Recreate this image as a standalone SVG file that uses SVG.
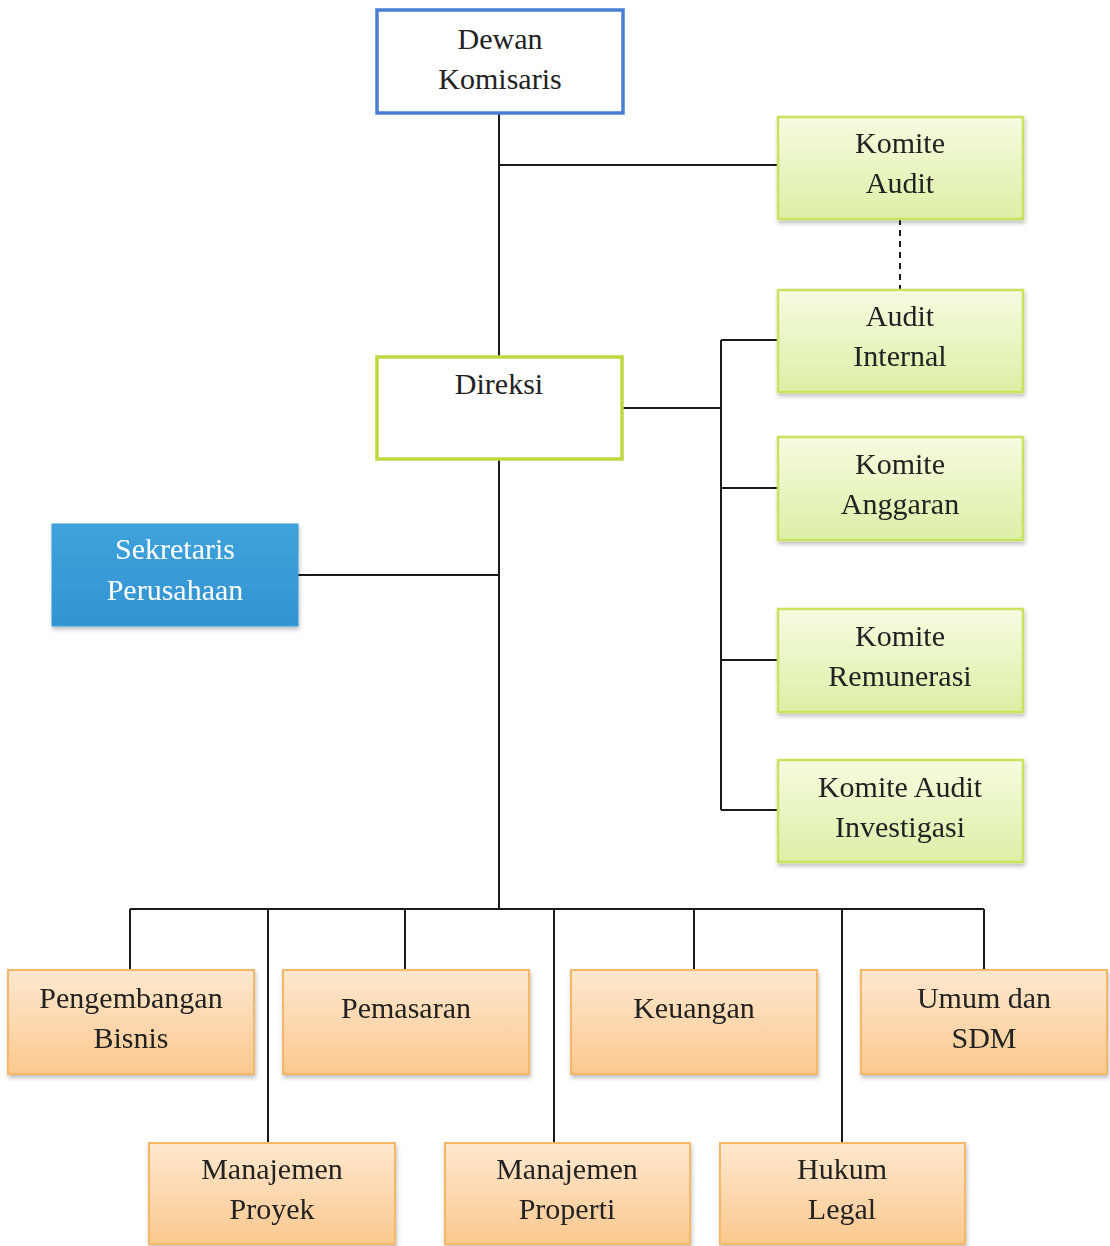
<svg xmlns="http://www.w3.org/2000/svg" width="1110" height="1246" viewBox="0 0 1110 1246">
<defs>
<linearGradient id="gGreen" x1="0" y1="0" x2="0" y2="1"><stop offset="0" stop-color="#f6fbe0"/><stop offset="1" stop-color="#dcefa6"/></linearGradient>
<linearGradient id="gOrange" x1="0" y1="0" x2="0" y2="1"><stop offset="0" stop-color="#fee8cf"/><stop offset="1" stop-color="#fac88e"/></linearGradient>
<linearGradient id="gBlue" x1="0" y1="0" x2="0" y2="1"><stop offset="0" stop-color="#3fa2dc"/><stop offset="1" stop-color="#3294d2"/></linearGradient>
<filter id="sh" x="-5%" y="-5%" width="112%" height="120%"><feDropShadow dx="1" dy="3" stdDeviation="2" flood-color="#000" flood-opacity="0.25"/></filter>
<style>
.t{font-family:"Liberation Serif","Times New Roman",serif;font-size:30px;fill:#222;text-anchor:middle}
.w{fill:#fff}
.green{fill:url(#gGreen);stroke:#c9e25e;stroke-width:2.5}
.orange{fill:url(#gOrange);stroke:#f4b868;stroke-width:2}
.blue{fill:url(#gBlue);stroke:#3a9bd5;stroke-width:1}
.c{stroke:#1a1a1a;stroke-width:2;fill:none}
</style>
</defs>
<g id="connectors">
<path class="c" d="M499 113V357M499 165H778M622 408H721M721 340V810M721 340H778M721 488H778M721 660H778M721 810H778M499 459V909M298 575H499M130 909H984M130 909V970M268 909V1143M405 909V970M554 909V1143M694 909V970M842 909V1143M984 909V970"/>
<path class="c" d="M900 219V290" stroke-dasharray="6,5"/>
</g>
<g id="dewan-komisaris"><rect x="377" y="10" width="246" height="103" fill="#fff" stroke="#4a7fd6" stroke-width="3.5"/><text class="t" x="500" y="49">Dewan</text><text class="t" x="500" y="89">Komisaris</text></g>
<g id="komite-audit" filter="url(#sh)"><rect class="green" x="778" y="117" width="245" height="102"/><text class="t" x="900" y="153">Komite</text><text class="t" x="900" y="193">Audit</text></g>
<g id="audit-internal" filter="url(#sh)"><rect class="green" x="778" y="290" width="245" height="102"/><text class="t" x="900" y="326">Audit</text><text class="t" x="900" y="366">Internal</text></g>
<g id="direksi"><rect x="377" y="357" width="245" height="102" fill="#fff" stroke="#bcd93e" stroke-width="3.5"/><text class="t" x="499" y="394">Direksi</text></g>
<g id="komite-anggaran" filter="url(#sh)"><rect class="green" x="778" y="437" width="245" height="103"/><text class="t" x="900" y="474">Komite</text><text class="t" x="900" y="514">Anggaran</text></g>
<g id="sekretaris-perusahaan" filter="url(#sh)"><rect class="blue" x="52" y="524" width="246" height="102"/><text class="t w" x="175" y="559">Sekretaris</text><text class="t w" x="175" y="600">Perusahaan</text></g>
<g id="komite-remunerasi" filter="url(#sh)"><rect class="green" x="778" y="609" width="245" height="103"/><text class="t" x="900" y="646">Komite</text><text class="t" x="900" y="686">Remunerasi</text></g>
<g id="komite-audit-investigasi" filter="url(#sh)"><rect class="green" x="778" y="760" width="245" height="102"/><text class="t" x="900" y="797">Komite Audit</text><text class="t" x="900" y="837">Investigasi</text></g>
<g id="pengembangan-bisnis" filter="url(#sh)"><rect class="orange" x="8" y="970" width="246" height="104"/><text class="t" x="131" y="1008">Pengembangan</text><text class="t" x="131" y="1048">Bisnis</text></g>
<g id="pemasaran" filter="url(#sh)"><rect class="orange" x="283" y="970" width="246" height="104"/><text class="t" x="406" y="1018">Pemasaran</text></g>
<g id="keuangan" filter="url(#sh)"><rect class="orange" x="571" y="970" width="246" height="104"/><text class="t" x="694" y="1018">Keuangan</text></g>
<g id="umum-sdm" filter="url(#sh)"><rect class="orange" x="861" y="970" width="246" height="104"/><text class="t" x="984" y="1008">Umum dan</text><text class="t" x="984" y="1048">SDM</text></g>
<g id="manajemen-proyek" filter="url(#sh)"><rect class="orange" x="149" y="1143" width="246" height="101"/><text class="t" x="272" y="1179">Manajemen</text><text class="t" x="272" y="1219">Proyek</text></g>
<g id="manajemen-properti" filter="url(#sh)"><rect class="orange" x="445" y="1143" width="245" height="101"/><text class="t" x="567" y="1179">Manajemen</text><text class="t" x="567" y="1219">Properti</text></g>
<g id="hukum-legal" filter="url(#sh)"><rect class="orange" x="720" y="1143" width="245" height="101"/><text class="t" x="842" y="1179">Hukum</text><text class="t" x="842" y="1219">Legal</text></g>
</svg>
